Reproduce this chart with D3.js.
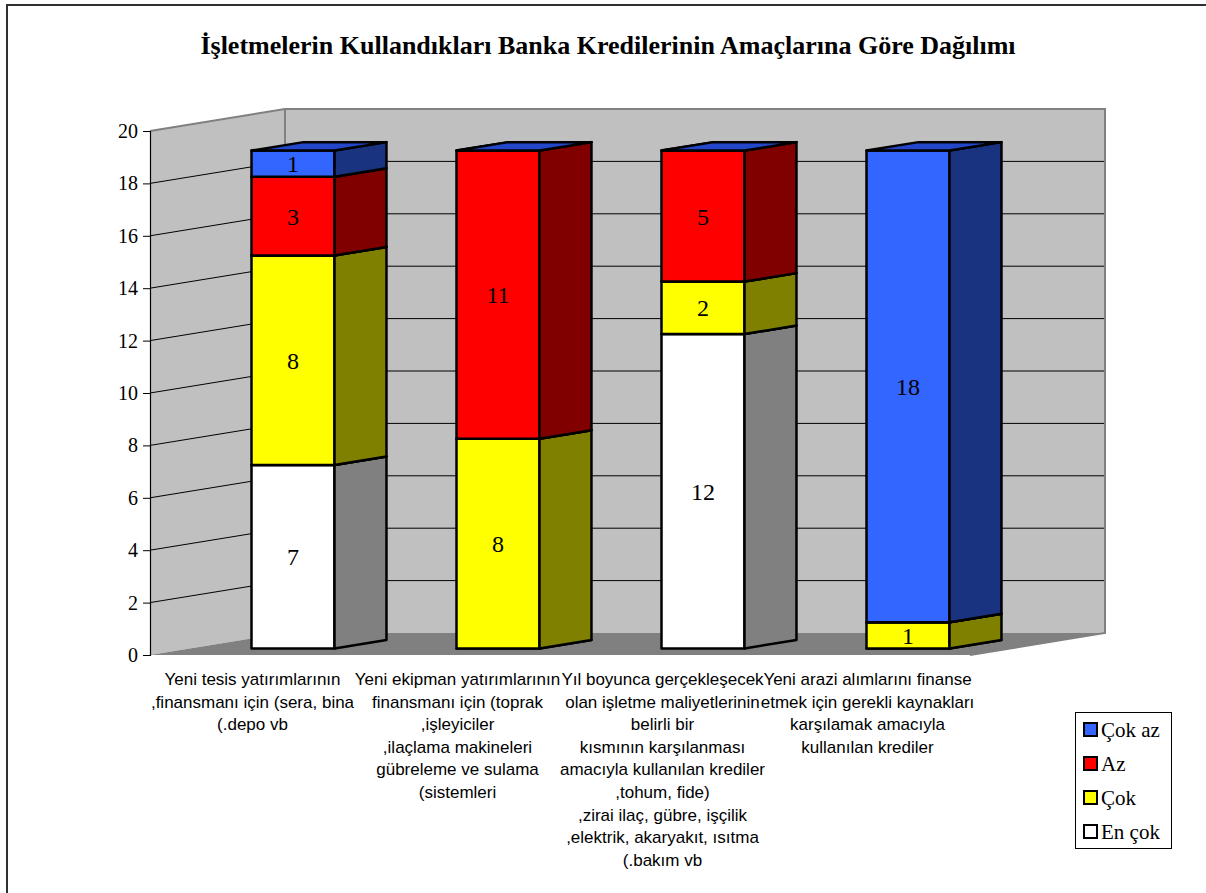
<!DOCTYPE html>
<html>
<head>
<meta charset="utf-8">
<script src="https://cdn.jsdelivr.net/npm/d3@7/dist/d3.min.js"></script>
<style>
  html, body { margin: 0; padding: 0; background: #ffffff; }
  svg { display: block; }
</style>
</head>
<body>
<svg id="chart" width="1206" height="893"></svg>
<script>
// ---------------- DATA ----------------
const title = "İşletmelerin Kullandıkları Banka Kredilerinin Amaçlarına Göre Dağılımı";
const categories = ["c1", "c2", "c3", "c4"];
const categoryLabels = [
  ["Yeni tesis yatırımlarının", ",finansmanı için (sera, bina", "(.depo vb"],
  ["Yeni ekipman yatırımlarının", "finansmanı için (toprak", ",işleyiciler", ",ilaçlama makineleri", "gübreleme ve sulama", "(sistemleri"],
  ["Yıl boyunca gerçekleşecek", "olan işletme maliyetlerinin", "belirli bir", "kısmının karşılanması", "amacıyla kullanılan krediler", ",tohum, fide)", ",zirai ilaç, gübre, işçilik", ",elektrik, akaryakıt, ısıtma", "(.bakım vb"],
  ["Yeni arazi alımlarını finanse", "etmek için gerekli kaynakları", "karşılamak amacıyla", "kullanılan krediler"]
];
// stacked bottom -> top
const seriesNames = ["En çok", "Çok", "Az", "Çok az"];
const enCok = [7, 0, 12, 0];
const cok   = [8, 8, 2, 1];
const az    = [3, 11, 5, 0];
const cokAz = [1, 0, 0, 18];
const yTicks = [0, 2, 4, 6, 8, 10, 12, 14, 16, 18, 20];

// ---------------- STYLE ----------------
const seriesValues = [enCok, cok, az, cokAz];
const frontColors = ["#ffffff", "#ffff00", "#ff0000", "#3366ff"];
const sideColors  = ["#808080", "#808000", "#800000", "#1a3380"];
const topColors   = ["#c8c8c8", "#c8c800", "#c00000", "#2347c8"];

const svg = d3.select("#chart");

// outer frame
svg.append("rect").attr("x", 7).attr("y", 5).attr("width", 1220).attr("height", 920)
  .attr("fill", "none").attr("stroke", "#303030").attr("stroke-width", 2);

// title
svg.append("text").attr("x", 608).attr("y", 54).attr("text-anchor", "middle")
  .attr("font-family", "'Liberation Serif', 'Times New Roman', serif")
  .attr("font-weight", "bold").attr("font-size", 26).attr("fill", "#000")
  .text(title);

// ---------------- SCALES ----------------
const y = d3.scaleLinear().domain([0, 20]).range([655, 131]);
const x = d3.scaleBand().domain(categories).range([150, 970]);
const depth = { dx: 135, dy: -22 };
const off = d => [depth.dx * d, depth.dy * d];
const barW = 83;
const d0 = 0.30, d1 = 0.685;

// walls
const gWalls = svg.append("g");
const X0 = 150, X1 = 970;
const [wdx, wdy] = off(1);
gWalls.append("polygon")
  .attr("points", [[X0, y(0)], [X0, y(20)], [X0 + wdx, y(20) + wdy], [X0 + wdx, y(0) + wdy]].join(" "))
  .attr("fill", "#c0c0c0");
gWalls.append("polygon")
  .attr("points", [[X0 + wdx, y(20) + wdy], [X1 + wdx, y(20) + wdy], [X1 + wdx, y(0) + wdy], [X0 + wdx, y(0) + wdy]].join(" "))
  .attr("fill", "#c0c0c0");
gWalls.append("polygon")
  .attr("points", [[X0, y(0)], [X0 + wdx, y(0) + wdy], [X1 + wdx, y(0) + wdy], [X1, y(0)]].join(" "))
  .attr("fill", "#808080");

// gridlines
yTicks.filter(t => t > 0 && t < 20).forEach(t => {
  gWalls.append("polyline")
    .attr("points", [[X0, y(t)], [X0 + wdx, y(t) + wdy], [X1 + wdx, y(t) + wdy]].join(" "))
    .attr("fill", "none").attr("stroke", "#000").attr("stroke-width", 1);
});
// wall outlines
gWalls.append("polyline")
  .attr("points", [[X0, y(20)], [X0 + wdx, y(20) + wdy], [X1 + wdx, y(20) + wdy], [X1 + wdx, y(0) + wdy], [X1, y(0)]].join(" "))
  .attr("fill", "none").attr("stroke", "#808080").attr("stroke-width", 2);
gWalls.append("line")
  .attr("x1", X0 + wdx).attr("x2", X0 + wdx).attr("y1", y(20) + wdy).attr("y2", y(0) + wdy)
  .attr("stroke", "#808080").attr("stroke-width", 2);

// y axis
const yAxis = d3.axisLeft(y).tickValues(yTicks).tickSize(7).tickPadding(5).tickFormat(d3.format("d"));
const gy = svg.append("g").attr("transform", `translate(${X0},0)`).call(yAxis);
gy.select(".domain").attr("stroke", "#000").attr("stroke-width", 1.2);
gy.selectAll(".tick line").attr("stroke", "#000");
gy.selectAll(".tick text")
  .attr("font-family", "'Liberation Serif', 'Times New Roman', serif")
  .attr("font-size", 20).attr("fill", "#000");

// ---------------- BARS ----------------
const gBars = svg.append("g");
const [ox0, oy0] = off(d0);
const [ox1, oy1] = off(d1);
categories.forEach((c, i) => {
  const xl = x(c) + x.bandwidth() / 2 - barW / 2;
  const xr = xl + barW;
  let base = 0;
  seriesValues.forEach((vals, s) => {
    const v = vals[i];
    const v0 = base, v1 = base + v;
    base = v1;
    const g = gBars.append("g").attr("stroke", "#000").attr("stroke-width", 2.5).attr("stroke-linejoin", "round");
    if (v > 0) {
      g.append("rect")
        .attr("x", xl + ox0).attr("y", y(v1) + oy0)
        .attr("width", barW).attr("height", y(v0) - y(v1))
        .attr("fill", frontColors[s]);
      g.append("polygon")
        .attr("points", [[xr + ox0, y(v1) + oy0], [xr + ox1, y(v1) + oy1], [xr + ox1, y(v0) + oy1], [xr + ox0, y(v0) + oy0]].join(" "))
        .attr("fill", sideColors[s]);
    }
    g.append("polygon")
      .attr("points", [[xl + ox0, y(v1) + oy0], [xl + ox1, y(v1) + oy1], [xr + ox1, y(v1) + oy1], [xr + ox0, y(v1) + oy0]].join(" "))
      .attr("fill", topColors[s]);
    if (v > 0) {
      g.append("text")
        .attr("x", xl + ox0 + barW / 2).attr("y", (y(v0) + y(v1)) / 2 + oy0)
        .attr("dy", "0.35em").attr("text-anchor", "middle")
        .attr("stroke", "none").attr("fill", "#000")
        .attr("font-family", "'Liberation Serif', 'Times New Roman', serif")
        .attr("font-size", 24)
        .text(v);
    }
  });
});

// ---------------- CATEGORY LABELS ----------------
const gCat = svg.append("g")
  .attr("font-family", "'Liberation Sans', Arial, sans-serif")
  .attr("font-size", 17).attr("fill", "#000").attr("text-anchor", "middle");
categories.forEach((c, i) => {
  const cx = x(c) + x.bandwidth() / 2;
  categoryLabels[i].forEach((line, k) => {
    gCat.append("text").attr("x", cx).attr("y", 685 + k * 22.6).text(line);
  });
});

// ---------------- LEGEND ----------------
const gLeg = svg.append("g");
gLeg.append("rect").attr("x", 1075.5).attr("y", 712.5).attr("width", 96).attr("height", 136)
  .attr("fill", "#fff").attr("stroke", "#000").attr("stroke-width", 1);
const legendOrder = [3, 2, 1, 0];
legendOrder.forEach((s, k) => {
  const cy = 730 + k * 34;
  gLeg.append("rect").attr("x", 1084).attr("y", cy - 7).attr("width", 13).attr("height", 13)
    .attr("fill", frontColors[s]).attr("stroke", "#000").attr("stroke-width", 2);
  gLeg.append("text").attr("x", 1101).attr("y", cy).attr("dy", "0.35em")
    .attr("font-family", "'Liberation Serif', 'Times New Roman', serif")
    .attr("font-size", 21).attr("fill", "#000").text(seriesNames[s]);
});
</script>
</body>
</html>
